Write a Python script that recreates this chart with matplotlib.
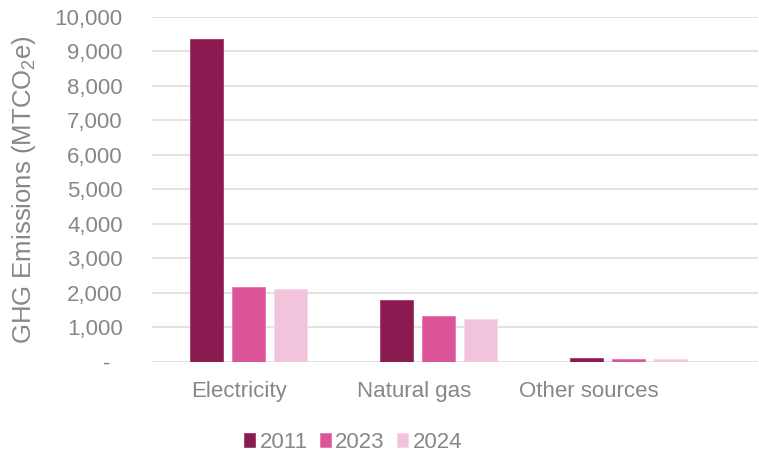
import matplotlib
matplotlib.use("Agg")
import matplotlib.pyplot as plt
import matplotlib.transforms as mtransforms
import numpy as np

categories = ["Electricity", "Natural gas", "Other sources"]
years = ["2011", "2023", "2024"]
values_2011 = [9350, 1780, 107]
values_2023 = [2157, 1325, 68]
values_2024 = [2107, 1238, 78]
yticks = [0, 1000, 2000, 3000, 4000, 5000, 6000, 7000, 8000, 9000, 10000]
ytick_labels = ["-  ", "1,000", "2,000", "3,000", "4,000", "5,000", "6,000",
                "7,000", "8,000", "9,000", "10,000"]

colors = ["#8A1A50", "#DB5499", "#F2C4DC"]
edge_colors = ["#9E3A6A", "#E878B0", "#F7D6E8"]
text_color = "#878787"
grid_color = "#E0E0E0"

plt.rcParams["font.family"] = ["Liberation Sans", "DejaVu Sans"]
plt.rcParams["mathtext.fontset"] = "custom"
plt.rcParams["mathtext.rm"] = "Liberation Sans"
plt.rcParams["mathtext.it"] = "Liberation Sans:italic"

fig = plt.figure(figsize=(7.59, 4.54), dpi=100)
ax = fig.add_axes([152 / 759, 1 - 361.7 / 454, 606 / 759, (361.7 - 17) / 454])

x = np.arange(len(categories))
series = [values_2011, values_2023, values_2024]
offset = 0.222
width = 0.174
for i, (vals, yr) in enumerate(zip(series, years)):
    ax.bar(x + (i - 1) * offset, vals, width=width, color=colors[i],
           edgecolor=edge_colors[i], linewidth=0.6, label=yr, zorder=3)

ax.set_ylim(0, 10000)
ax.set_xlim(-0.508, 2.68)
ax.set_yticks(yticks)
ax.set_yticklabels(ytick_labels)
ax.set_xticks(x)
ax.set_xticklabels(categories)
ax.tick_params(axis="both", length=0, labelsize=16, colors=text_color)
ax.tick_params(axis="y", pad=21)
ax.tick_params(axis="x", pad=14)
ax.grid(axis="y", color=grid_color, linewidth=1.3, zorder=0)
for s in ax.spines.values():
    s.set_visible(False)

# shift category labels to match reference placement
shifts = [-10, -25, -40]
for lbl, dx in zip(ax.get_xticklabels(), shifts):
    lbl.set_transform(lbl.get_transform() +
                      mtransforms.ScaledTranslation(dx / 100, 0, fig.dpi_scale_trans))

fig.text(24 / 759, 1 - 190 / 454, r"GHG Emissions (MTCO$_2$e)", rotation=90,
         ha="center", va="center", fontsize=18.5, color=text_color)

handles, labels = ax.get_legend_handles_labels()
leg = fig.legend(handles, labels, loc="center", bbox_to_anchor=(353 / 759, 1 - 442 / 454),
                 ncol=3, frameon=False, fontsize=16, handlelength=0.5, handleheight=0.6,
                 handletextpad=0.2, columnspacing=0.55, labelcolor=text_color)

fig.savefig("out.png", dpi=100)
